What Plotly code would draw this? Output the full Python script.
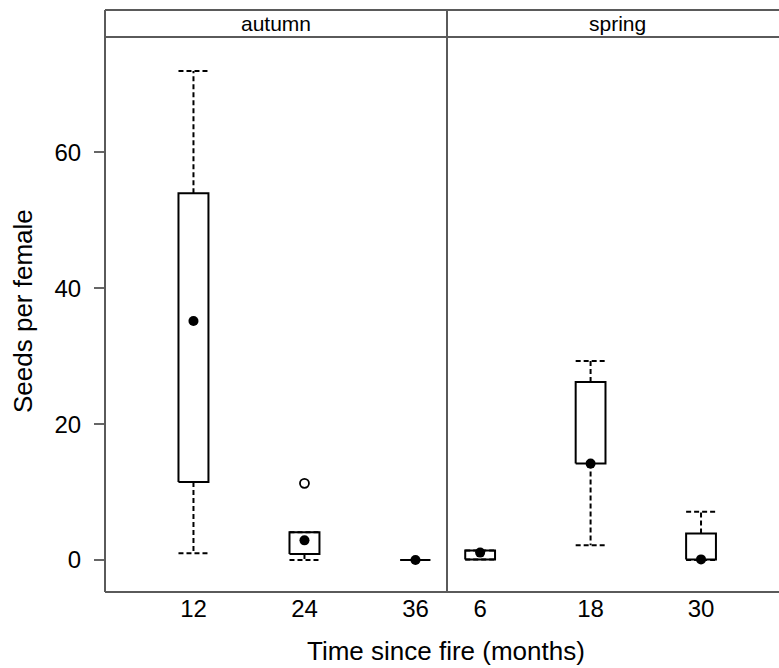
import plotly.graph_objects as go

# ---- data ----
autumn_labels = ["12", "24", "36"]
autumn_low = [1.0, 0.0, 0.0]
autumn_q1 = [11.5, 0.9, 0.0]
autumn_med = [35.2, 2.9, 0.0]
autumn_q3 = [54.0, 4.1, 0.0]
autumn_high = [72.0, 4.1, 0.0]
autumn_out_label = ["24"]
autumn_out_value = [11.3]

spring_labels = ["6", "18", "30"]
spring_low = [0.1, 2.2, 0.0]
spring_q1 = [0.1, 14.2, 0.1]
spring_med = [1.1, 14.2, 0.1]
spring_q3 = [1.4, 26.2, 3.9]
spring_high = [1.4, 29.3, 7.1]
spring_out_label = []
spring_out_value = []

panel_names = ["autumn", "spring"]
y_ticks = [0, 20, 40, 60]

FONT = "Liberation Sans, Arial, Helvetica, sans-serif"
HALF = 0.135  # half box width in category units

fig = go.Figure()


def add_panel(labels, low, q1, med, q3, high, out_lab, out_val, xa, ya):
    pos = list(range(1, len(labels) + 1))
    idx = {l: p for l, p in zip(labels, pos)}
    bx, by, wx, wy = [], [], [], []
    for p, a, b, m, c, d in zip(pos, low, q1, med, q3, high):
        bx += [p - HALF, p + HALF, p + HALF, p - HALF, p - HALF, None]
        by += [b, b, c, c, b, None]
        # whiskers
        wx += [p, p, None, p, p, None]
        wy += [c, d, None, b, a, None]
        # caps
        wx += [p - HALF, p + HALF, None, p - HALF, p + HALF, None]
        wy += [d, d, None, a, a, None]
    fig.add_trace(go.Scatter(x=wx, y=wy, mode="lines", xaxis=xa, yaxis=ya,
                             line=dict(color="black", width=2, dash="5px,3px"),
                             hoverinfo="skip", showlegend=False))
    fig.add_trace(go.Scatter(x=bx, y=by, mode="lines", xaxis=xa, yaxis=ya,
                             line=dict(color="black", width=2),
                             hoverinfo="skip", showlegend=False))
    fig.add_trace(go.Scatter(x=pos, y=med, mode="markers", xaxis=xa, yaxis=ya,
                             marker=dict(color="black", size=10),
                             showlegend=False))
    if out_lab:
        fig.add_trace(go.Scatter(x=[idx[l] for l in out_lab], y=out_val,
                                 mode="markers", xaxis=xa, yaxis=ya,
                                 marker=dict(symbol="circle-open", color="black",
                                             size=9, line=dict(width=1.8)),
                                 showlegend=False))


add_panel(autumn_labels, autumn_low, autumn_q1, autumn_med, autumn_q3, autumn_high,
          autumn_out_label, autumn_out_value, "x", "y")
add_panel(spring_labels, spring_low, spring_q1, spring_med, spring_q3, spring_high,
          spring_out_label, spring_out_value, "x2", "y2")

W, H = 779, 668
ML, MR, MT, MB = 105, 0, 37, 76
pw = W - ML - MR
ph = H - MT - MB
split = (447 - ML) / pw
strip_top = 1 + (MT - 10) / ph

yaxis_common = dict(range=[-4.7, 77.0], showgrid=False, zeroline=False,
                    showline=False)

fig.update_layout(
    width=W, height=H,
    margin=dict(l=ML, r=MR, t=MT, b=MB),
    paper_bgcolor="white", plot_bgcolor="white",
    font=dict(family=FONT, color="black"),
    showlegend=False,
    xaxis=dict(domain=[0, split], range=[0.203, 3.284], tickvals=[1, 2, 3],
               ticktext=autumn_labels, showgrid=False, zeroline=False,
               showline=False, ticks="", tickfont=dict(size=24)),
    xaxis2=dict(domain=[split, 1], range=[0.70, 3.706], tickvals=[1, 2, 3],
                ticktext=spring_labels, showgrid=False, zeroline=False,
                showline=False, ticks="", tickfont=dict(size=24)),
    yaxis=dict(**yaxis_common, tickvals=y_ticks, ticks="outside", ticklen=10,
               tickwidth=1.5, tickcolor="#666", tickfont=dict(size=24),
               ticklabelstandoff=8),
    yaxis2=dict(**yaxis_common, anchor="x2", matches="y", showticklabels=False,
                ticks=""),
)

# axis titles
fig.add_annotation(text="Time since fire (months)", xref="paper", yref="paper",
                   x=(446 - ML) / pw, y=-(651 - (H - MB)) / ph, showarrow=False,
                   font=dict(size=26), xanchor="center", yanchor="middle")
fig.add_annotation(text="Seeds per female", xref="paper", yref="paper",
                   x=(23 - ML) / pw, y=(H - MB - 311) / ph, showarrow=False,
                   textangle=-90, font=dict(size=26),
                   xanchor="center", yanchor="middle")

# frames and strips
LC = "#5a5a5a"
LW = 2
shapes = [
    dict(type="line", xref="paper", yref="paper", x0=0, x1=0, y0=0, y1=strip_top),
    dict(type="line", xref="paper", yref="paper", x0=0, x1=1.01, y0=strip_top, y1=strip_top),
    dict(type="line", xref="paper", yref="paper", x0=0, x1=1.01, y0=0, y1=0),
    dict(type="line", xref="paper", yref="paper", x0=0, x1=1.01, y0=1, y1=1),
    dict(type="line", xref="paper", yref="paper", x0=split, x1=split, y0=0, y1=strip_top),
]
for s in shapes:
    s["line"] = dict(color=LC, width=LW)
fig.update_layout(shapes=shapes)

strip_mid = (1 + strip_top) / 2
fig.add_annotation(text=panel_names[0], xref="paper", yref="paper",
                   x=split / 2, y=strip_mid, showarrow=False,
                   font=dict(size=21), xanchor="center", yanchor="middle")
fig.add_annotation(text=panel_names[1], xref="paper", yref="paper",
                   x=(split + (447 + 342 - ML) / pw) / 2, y=strip_mid, showarrow=False,
                   font=dict(size=21), xanchor="center", yanchor="middle")

fig.write_html("out.html", config={"displayModeBar": False},
               post_script="document.body.style.margin='0';document.body.style.overflow='hidden';")
